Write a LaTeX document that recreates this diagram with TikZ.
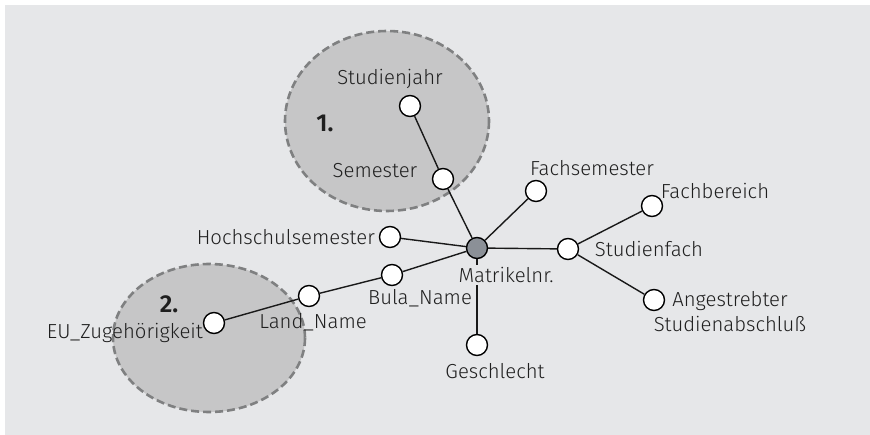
\documentclass[tikz,border=0pt]{standalone}
\usepackage{fontspec}
\setmainfont{Fira Sans Light}[BoldFont={Fira Sans SemiBold}]
\begin{document}
\definecolor{bgpanel}{HTML}{E6E7E9}
\definecolor{groupfill}{HTML}{C6C6C7}
\definecolor{groupline}{HTML}{7F8081}
\definecolor{keyfill}{HTML}{8B9097}
\begin{tikzpicture}[x=1pt,y=-1pt,
  attr/.style={circle,draw=black,line width=1.4pt,fill=white,minimum size=21pt,inner sep=0pt},
  keyattr/.style={attr,fill=keyfill},
  lbl/.style={inner sep=1pt,font=\fontsize{20.3}{23}\selectfont,text=black!88},
  num/.style={inner sep=0pt,font=\fontsize{24.5}{28}\selectfont\bfseries,text=black!88},
  group/.style={fill=groupfill,draw=groupline,line width=2.6pt,dash pattern=on 8pt off 4pt},
  link/.style={draw=black!90,line width=1.4pt}]
\useasboundingbox (0,0) rectangle (870,435);
\fill[bgpanel] (5,5) rectangle (870,435);

% groups of attributes
\draw[group] (387,121) ellipse [x radius=102, y radius=90];
\draw[group] (209,338) ellipse [x radius=96, y radius=74];
\node[num] (n1) at (325,123) {1.};
\node[num] (n2) at (169,304) {2.};

% attribute circles
\node[attr] (studienjahr) at (410,106) {};
\node[attr] (semester) at (443,179) {};
\node[attr] (fachsem) at (536,191) {};
\node[attr] (hochsem) at (390,237) {};
\node[attr] (bula) at (392,275) {};
\node[attr] (land) at (309,296) {};
\node[attr] (eu) at (214,323) {};
\node[attr] (geschlecht) at (477,345) {};
\node[attr] (fach) at (568,249) {};
\node[attr] (fachbereich) at (652,206) {};
\node[attr] (abschluss) at (654,300) {};

% connectors
\path[link] (semester) -- (studienjahr);
\path[link] (bula) -- (land);
\path[link] (land) -- (eu);
\path[link] (fach) -- (fachbereich);
\path[link] (fach) -- (abschluss);
\node[keyattr] (matrikel) at (477,248) {};
\path[link] (matrikel) -- (semester);
\path[link] (matrikel) -- (fachsem);
\path[link] (matrikel) -- (hochsem);
\path[link] (matrikel) -- (bula);
\path[link] (matrikel) -- (fach);
\path[link] (matrikel) -- (geschlecht);

% labels
\node[lbl] (l-studienjahr) at (390,79) {Studienjahr};
\node[lbl] (l-semester) at (375,171) {Semester};
\node[lbl] (l-fachsem) at (592,168) {Fachsemester};
\node[lbl,anchor=east] (l-hochsem) at (376,237) {Hochschulsemester};
\node[lbl] (l-bula) at (420,298) {Bula\_Name};
\node[lbl] (l-land) at (313,322) {Land\_Name};
\node[lbl,anchor=east] (l-eu) at (204,333) {EU\_Zugehörigkeit};
\node[lbl,fill=bgpanel,inner sep=2pt] (l-matrikel) at (506,275) {Matrikelnr.};
\node[lbl] (l-geschlecht) at (495,371) {Geschlecht};
\node[lbl] (l-fach) at (649,249) {Studienfach};
\node[lbl] (l-fachbereich) at (715,191) {Fachbereich};
\node[lbl,align=center] (l-abschluss) at (730,312) {Angestrebter\\[2pt]Studienabschluß};
\end{tikzpicture}
\end{document}
